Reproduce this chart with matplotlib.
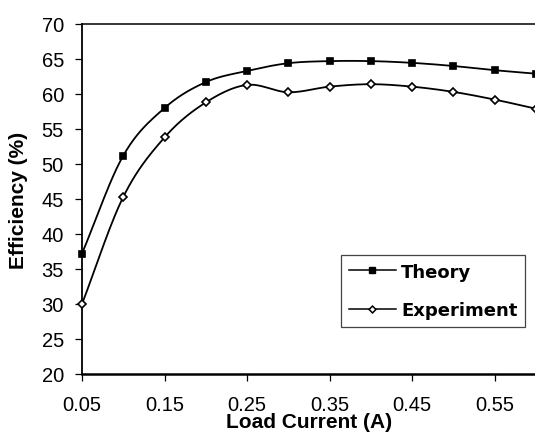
import numpy as np
import matplotlib
matplotlib.use("Agg")
import matplotlib.pyplot as plt
from matplotlib.lines import Line2D

plt.rcParams['font.family'] = ['Liberation Sans', 'DejaVu Sans']

load_current = [0.05, 0.10, 0.15, 0.20, 0.25, 0.30, 0.35, 0.40, 0.45, 0.50, 0.55, 0.60]
theory = [37.2, 51.2, 58.0, 61.7, 63.3, 64.4, 64.7, 64.7, 64.45, 64.0, 63.4, 62.9]
experiment = [30.0, 45.3, 53.8, 58.8, 61.3, 60.25, 61.05, 61.4, 61.05, 60.3, 59.2, 57.9]
xticks = [0.05, 0.15, 0.25, 0.35, 0.45, 0.55]
yticks = [20, 25, 30, 35, 40, 45, 50, 55, 60, 65, 70]


def smooth(x, y, n=24):
    # Catmull-Rom smoothing, like a spreadsheet "smoothed line"
    x = np.asarray(x, float); y = np.asarray(y, float)
    px = np.concatenate([[2 * x[0] - x[1]], x, [2 * x[-1] - x[-2]]])
    py = np.concatenate([[2 * y[0] - y[1]], y, [2 * y[-1] - y[-2]]])
    xs, ys = [], []
    t = np.linspace(0, 1, n, endpoint=False)
    for i in range(1, len(px) - 2):
        for arr, out in ((px, xs), (py, ys)):
            p0, p1, p2, p3 = arr[i - 1], arr[i], arr[i + 1], arr[i + 2]
            out.extend(0.5 * ((2 * p1) + (-p0 + p2) * t + (2 * p0 - 5 * p1 + 4 * p2 - p3) * t ** 2
                              + (-p0 + 3 * p1 - 3 * p2 + p3) * t ** 3))
    xs.append(x[-1]); ys.append(y[-1])
    return np.array(xs), np.array(ys)


W, H = 535, 435
fig = plt.figure(figsize=(W / 100, H / 100), dpi=100)
L, R, T, B = 82, 536, 25, 375
ax = fig.add_axes([L / W, 1 - B / H, (R - L) / W, (B - T) / H])

styles = [(theory, 's', 4.5, 'black'), (experiment, 'D', 3.8, 'white')]
for yv, mk, ms, fc in styles:
    sx, sy = smooth(load_current, yv)
    ax.plot(sx, sy, color='black', lw=1.3, zorder=2, clip_on=False)
    ax.plot(load_current, yv, linestyle='none', marker=mk, ms=ms,
            mfc=fc, mec='black', mew=1.2, zorder=3, clip_on=False)

handles = [Line2D([], [], color='black', lw=1.1, marker='s', ms=4.0, mfc='black', mec='black'),
           Line2D([], [], color='black', lw=1.1, marker='D', ms=3.5, mfc='white', mec='black', mew=1.1)]
leg = fig.legend(handles, ['Theory', 'Experiment'], loc='upper left',
                 bbox_to_anchor=(341 / W, 1 - 256 / H), bbox_transform=fig.transFigure,
                 frameon=True, fancybox=False, edgecolor='#444444', framealpha=1,
                 prop={'family': 'DejaVu Sans', 'weight': 'bold', 'size': 13},
                 handlelength=2.6, handletextpad=0.3, borderpad=0.42,
                 labelspacing=1.15, borderaxespad=0)
leg.get_frame().set_linewidth(0.9)

ax.set_xlim(0.05, 0.60)
ax.set_ylim(20, 70)
ax.set_xticks(xticks)
ax.set_xticklabels([f"{v:.2f}" for v in xticks])
ax.set_yticks(yticks)
ax.tick_params(direction='out', length=5, width=0.9, labelsize=14.5)
ax.tick_params(axis='y', pad=8)
ax.tick_params(axis='x', pad=10)
ax.spines['right'].set_visible(False)
ax.spines['left'].set_linewidth(1.3)
ax.spines['bottom'].set_linewidth(1.8)
ax.spines['top'].set_linewidth(1.1)

fig.text((L + R) / 2 / W, 1 - 428 / H, 'Load Current (A)', ha='center', va='baseline',
         fontsize=15, fontweight='bold')
fig.text(18.5 / W, 1 - (T + B) / 2 / H, 'Efficiency (%)', ha='center', va='center',
         rotation=90, fontsize=15, fontweight='bold')

fig.savefig('out.png', dpi=100)
